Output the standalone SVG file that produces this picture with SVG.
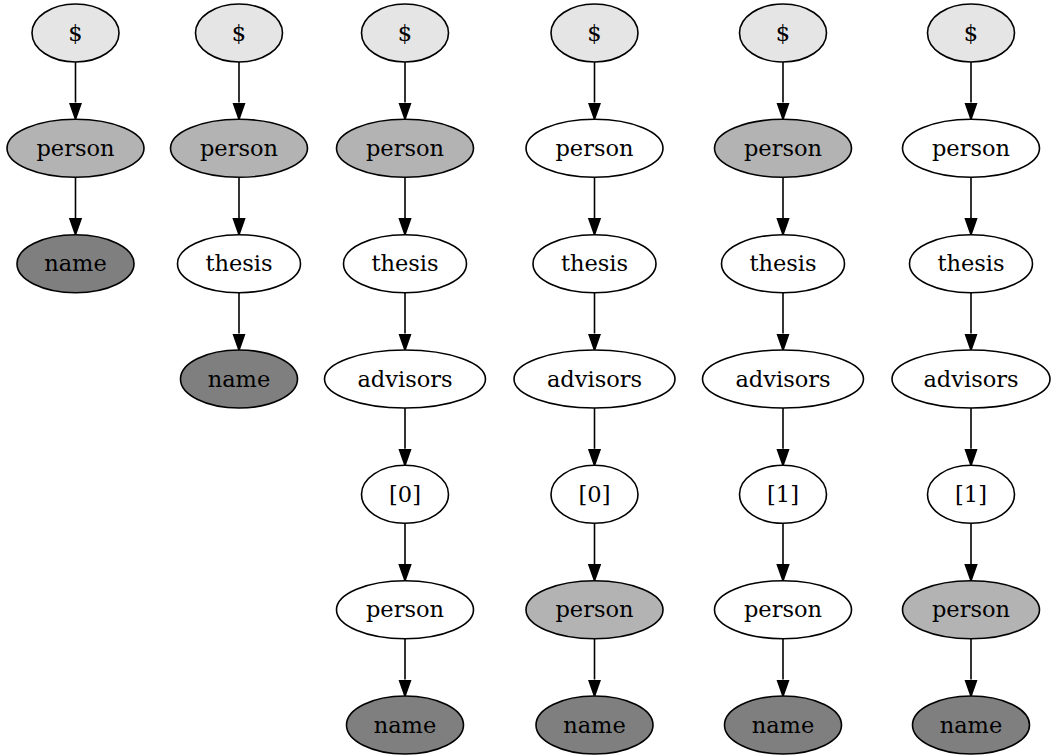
<svg xmlns="http://www.w3.org/2000/svg" width="1051" height="755" viewBox="0 0 1051 755">
  <style>
    .node ellipse { stroke: #000; stroke-width: 1.6; }
    .node text { font-family: "DejaVu Serif", "Liberation Serif", serif; font-size: 22.5px; text-anchor: middle; fill: #000; }
    .root { fill: #e5e5e5; }
    .hit { fill: #b3b3b3; }
    .leaf { fill: #7f7f7f; }
    .plain { fill: #fff; }
    #edges line { stroke: #000; stroke-width: 1.6; marker-end: url(#arrow); }
  </style>
  <defs>
    <marker id="arrow" markerUnits="userSpaceOnUse" markerWidth="20" markerHeight="16" viewBox="0 -8 20 16" refX="0" refY="0" orient="auto">
      <path d="M0,-5.8 L16.5,0 L0,5.8 Z" fill="#000" stroke="#000" stroke-width="1.6"/>
    </marker>
  </defs>
  <rect width="1051" height="755" fill="#fff"/>

  <!-- connectors: each ends at the arrowhead base, 16.5px above the target ellipse -->
  <g id="edges">
    <!-- path 1: $ / person / name -->
    <line x1="75.5" y1="62" x2="75.5" y2="102.5"/>
    <line x1="75.5" y1="177.3" x2="75.5" y2="218"/>
    <!-- path 2 -->
    <line x1="239" y1="62" x2="239" y2="102.5"/>
    <line x1="239" y1="177.3" x2="239" y2="218"/>
    <line x1="239" y1="292.7" x2="239" y2="333.5"/>
    <!-- path 3 -->
    <line x1="405" y1="62" x2="405" y2="102.5"/>
    <line x1="405" y1="177.3" x2="405" y2="218"/>
    <line x1="405" y1="292.7" x2="405" y2="333.5"/>
    <line x1="405" y1="408" x2="405" y2="448.8"/>
    <line x1="405" y1="523.3" x2="405" y2="564.2"/>
    <line x1="405" y1="638.7" x2="405" y2="679.5"/>
    <!-- path 4 -->
    <line x1="594.5" y1="62" x2="594.5" y2="102.5"/>
    <line x1="594.5" y1="177.3" x2="594.5" y2="218"/>
    <line x1="594.5" y1="292.7" x2="594.5" y2="333.5"/>
    <line x1="594.5" y1="408" x2="594.5" y2="448.8"/>
    <line x1="594.5" y1="523.3" x2="594.5" y2="564.2"/>
    <line x1="594.5" y1="638.7" x2="594.5" y2="679.5"/>
    <!-- path 5 -->
    <line x1="783" y1="62" x2="783" y2="102.5"/>
    <line x1="783" y1="177.3" x2="783" y2="218"/>
    <line x1="783" y1="292.7" x2="783" y2="333.5"/>
    <line x1="783" y1="408" x2="783" y2="448.8"/>
    <line x1="783" y1="523.3" x2="783" y2="564.2"/>
    <line x1="783" y1="638.7" x2="783" y2="679.5"/>
    <!-- path 6 -->
    <line x1="971" y1="62" x2="971" y2="102.5"/>
    <line x1="971" y1="177.3" x2="971" y2="218"/>
    <line x1="971" y1="292.7" x2="971" y2="333.5"/>
    <line x1="971" y1="408" x2="971" y2="448.8"/>
    <line x1="971" y1="523.3" x2="971" y2="564.2"/>
    <line x1="971" y1="638.7" x2="971" y2="679.5"/>
  </g>

  <!-- path 1 -->
  <g id="p1_root" class="node"><ellipse class="root" cx="75.5" cy="33" rx="43.5" ry="29"/><text x="75.5" y="40.7">$</text></g>
  <g id="p1_person" class="node"><ellipse class="hit" cx="75.5" cy="148.3" rx="68.5" ry="29"/><text x="75.5" y="156">person</text></g>
  <g id="p1_name" class="node"><ellipse class="leaf" cx="75.5" cy="263.7" rx="58.5" ry="29"/><text x="75.5" y="271.4">name</text></g>

  <!-- path 2 -->
  <g id="p2_root" class="node"><ellipse class="root" cx="239" cy="33" rx="43.5" ry="29"/><text x="239" y="40.7">$</text></g>
  <g id="p2_person" class="node"><ellipse class="hit" cx="239" cy="148.3" rx="68.5" ry="29"/><text x="239" y="156">person</text></g>
  <g id="p2_thesis" class="node"><ellipse class="plain" cx="239" cy="263.7" rx="61.5" ry="29"/><text x="239" y="271.4">thesis</text></g>
  <g id="p2_name" class="node"><ellipse class="leaf" cx="239" cy="379" rx="58.5" ry="29"/><text x="239" y="386.7">name</text></g>

  <!-- path 3 -->
  <g id="p3_root" class="node"><ellipse class="root" cx="405" cy="33" rx="43.5" ry="29"/><text x="405" y="40.7">$</text></g>
  <g id="p3_person" class="node"><ellipse class="hit" cx="405" cy="148.3" rx="68.5" ry="29"/><text x="405" y="156">person</text></g>
  <g id="p3_thesis" class="node"><ellipse class="plain" cx="405" cy="263.7" rx="61.5" ry="29"/><text x="405" y="271.4">thesis</text></g>
  <g id="p3_advisors" class="node"><ellipse class="plain" cx="405" cy="379" rx="80.5" ry="29"/><text x="405" y="386.7">advisors</text></g>
  <g id="p3_idx" class="node"><ellipse class="plain" cx="405" cy="494.3" rx="43.5" ry="29"/><text x="405" y="502">[0]</text></g>
  <g id="p3_advisor" class="node"><ellipse class="plain" cx="405" cy="609.7" rx="68.5" ry="29"/><text x="405" y="617.4">person</text></g>
  <g id="p3_name" class="node"><ellipse class="leaf" cx="405" cy="725" rx="58.5" ry="29"/><text x="405" y="732.7">name</text></g>

  <!-- path 4 -->
  <g id="p4_root" class="node"><ellipse class="root" cx="594.5" cy="33" rx="43.5" ry="29"/><text x="594.5" y="40.7">$</text></g>
  <g id="p4_person" class="node"><ellipse class="plain" cx="594.5" cy="148.3" rx="68.5" ry="29"/><text x="594.5" y="156">person</text></g>
  <g id="p4_thesis" class="node"><ellipse class="plain" cx="594.5" cy="263.7" rx="61.5" ry="29"/><text x="594.5" y="271.4">thesis</text></g>
  <g id="p4_advisors" class="node"><ellipse class="plain" cx="594.5" cy="379" rx="80.5" ry="29"/><text x="594.5" y="386.7">advisors</text></g>
  <g id="p4_idx" class="node"><ellipse class="plain" cx="594.5" cy="494.3" rx="43.5" ry="29"/><text x="594.5" y="502">[0]</text></g>
  <g id="p4_advisor" class="node"><ellipse class="hit" cx="594.5" cy="609.7" rx="68.5" ry="29"/><text x="594.5" y="617.4">person</text></g>
  <g id="p4_name" class="node"><ellipse class="leaf" cx="594.5" cy="725" rx="58.5" ry="29"/><text x="594.5" y="732.7">name</text></g>

  <!-- path 5 -->
  <g id="p5_root" class="node"><ellipse class="root" cx="783" cy="33" rx="43.5" ry="29"/><text x="783" y="40.7">$</text></g>
  <g id="p5_person" class="node"><ellipse class="hit" cx="783" cy="148.3" rx="68.5" ry="29"/><text x="783" y="156">person</text></g>
  <g id="p5_thesis" class="node"><ellipse class="plain" cx="783" cy="263.7" rx="61.5" ry="29"/><text x="783" y="271.4">thesis</text></g>
  <g id="p5_advisors" class="node"><ellipse class="plain" cx="783" cy="379" rx="80.5" ry="29"/><text x="783" y="386.7">advisors</text></g>
  <g id="p5_idx" class="node"><ellipse class="plain" cx="783" cy="494.3" rx="43.5" ry="29"/><text x="783" y="502">[1]</text></g>
  <g id="p5_advisor" class="node"><ellipse class="plain" cx="783" cy="609.7" rx="68.5" ry="29"/><text x="783" y="617.4">person</text></g>
  <g id="p5_name" class="node"><ellipse class="leaf" cx="783" cy="725" rx="58.5" ry="29"/><text x="783" y="732.7">name</text></g>

  <!-- path 6 -->
  <g id="p6_root" class="node"><ellipse class="root" cx="971" cy="33" rx="43.5" ry="29"/><text x="971" y="40.7">$</text></g>
  <g id="p6_person" class="node"><ellipse class="plain" cx="971" cy="148.3" rx="68.5" ry="29"/><text x="971" y="156">person</text></g>
  <g id="p6_thesis" class="node"><ellipse class="plain" cx="971" cy="263.7" rx="61.5" ry="29"/><text x="971" y="271.4">thesis</text></g>
  <g id="p6_advisors" class="node"><ellipse class="plain" cx="971" cy="379" rx="79" ry="29"/><text x="971" y="386.7">advisors</text></g>
  <g id="p6_idx" class="node"><ellipse class="plain" cx="971" cy="494.3" rx="43.5" ry="29"/><text x="971" y="502">[1]</text></g>
  <g id="p6_advisor" class="node"><ellipse class="hit" cx="971" cy="609.7" rx="68.5" ry="29"/><text x="971" y="617.4">person</text></g>
  <g id="p6_name" class="node"><ellipse class="leaf" cx="971" cy="725" rx="58.5" ry="29"/><text x="971" y="732.7">name</text></g>
</svg>
